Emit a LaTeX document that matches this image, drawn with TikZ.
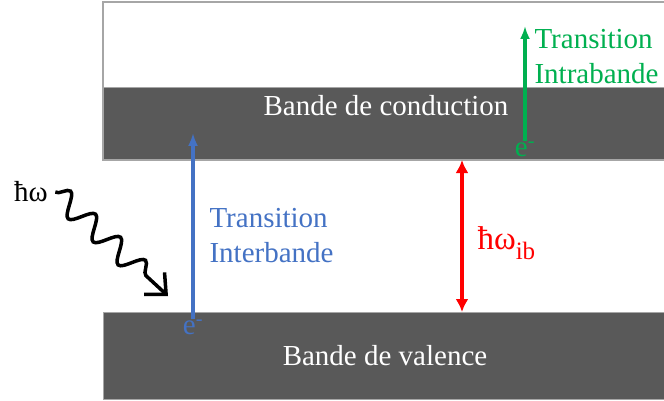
\documentclass[tikz,border=0pt]{standalone}
\usepackage{fontspec}
\setmainfont{Liberation Serif}
\usetikzlibrary{arrows.meta}
\usetikzlibrary{decorations.pathmorphing}
\definecolor{bandgray}{HTML}{595959}
\definecolor{edgegray}{HTML}{A6A6A6}
\definecolor{interblue}{HTML}{4472C4}
\definecolor{intragreen}{HTML}{00B050}
\tikzset{
	band/.style={fill=bandgray, draw=edgegray, line width=1pt},
	elec/.style={inner sep=0pt},
}

\begin{document}
\begin{tikzpicture}[x=1pt, y=-1pt, font=\fontsize{29}{35}\selectfont]
			\useasboundingbox (0,0) rectangle (664,401);
			\clip (0,0) rectangle (664,401);
			\draw[edgegray, line width=1.2pt, fill=white] (103,2) rectangle (680,160);
			\path[band] (103,88) rectangle (680,160);
			\path[band] (103,312) rectangle (680,399);
			\node[white] (cbtext) at (386,106) {Bande de conduction};
			\node[white] (vbtext) at (385,356) {Bande de valence};
			% interbande
			\node[interblue, elec] (ev) at (193,327) {e\textsuperscript{-}};
			\coordinate (evtop) at (193,133);
			\draw[-{Latex[length=13pt,width=10pt]}, interblue, line width=3.2pt] (ev.north) -- (evtop);
			\node[interblue, align=left, anchor=west] (inter) at (206,236) {Transition\\Interbande};
			% intrabande
			\node[intragreen, elec] (ec) at (525,149) {e\textsuperscript{-}};
			\coordinate (ectop) at (525,26);
			\draw[-{Latex[length=13pt,width=10pt]}, intragreen, line width=3.8pt] (ec.north) -- (ectop);
			\node[intragreen, align=left, anchor=west] (intra) at (531,57) {Transition\\Intrabande};
			% gap
			\coordinate (gtop) at (462,160);
			\coordinate (gbot) at (462,312);
			\draw[{Latex[length=13pt,width=13pt]}-{Latex[length=13pt,width=13pt]}, red, line width=3.2pt] (gtop) -- (gbot);
			\node[red, anchor=west] (gap) at (474,243) {\fontsize{33}{35}\selectfont ħω\raisebox{-0.3em}{\fontsize{25}{25}\selectfont ib}};
			% photon
			\node (photon) at (31,192) {ħω};
			\coordinate (wavetip) at (168,296);
			\draw[decorate, decoration={snake, amplitude=11pt, segment length=34pt, post length=16pt}, -{Straight Barb[length=16pt,width=30pt]}, line width=3.5pt] ([xshift=4pt]photon.east) -- (wavetip);
		\end{tikzpicture}
\end{document}
